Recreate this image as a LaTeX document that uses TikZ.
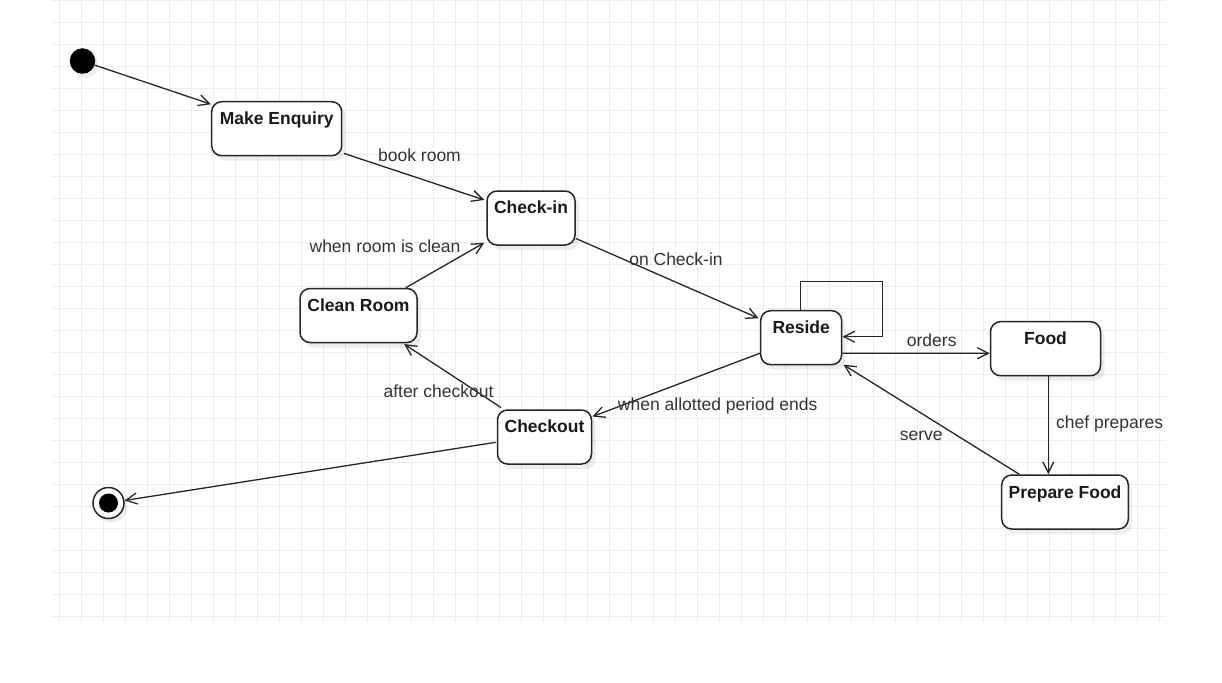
\documentclass[tikz,border=0pt]{standalone}
\usepackage{fontspec}
\setmainfont{Liberation Sans}
\usetikzlibrary{arrows.meta,shadows,calc}
\definecolor{gridc}{HTML}{EDEDED}
\definecolor{ink}{HTML}{262626}
\definecolor{lbl}{HTML}{333333}

\begin{document}
\begin{tikzpicture}[x=1pt,y=-1pt,
  statebox/.style={draw=ink, line width=1.5pt, rounded corners=10pt, fill=white,
    minimum height=54pt, inner sep=0pt,
    drop shadow={shadow xshift=4pt, shadow yshift=-5pt, opacity=0.07, fill=black}},
  ttl/.style={font=\bfseries\fontsize{17.5}{20}\selectfont, text=black!90, inner sep=0pt, anchor=base},
  lab/.style={font=\fontsize{17.5}{20}\selectfont, text=lbl, inner sep=0pt, anchor=base},
  trans/.style={draw=ink, line width=1.3pt, -{Straight Barb[length=11pt,width=11pt]}},
  gridline/.style={draw=gridc, line width=1.3pt}]

\useasboundingbox (0,0) rectangle (1222,682);
\fill[white] (0,0) rectangle (1222,682);

% background grid
\foreach \gx in {0,...,50}
  \draw[gridline] ({59.3+22*\gx},0) -- ({59.3+22*\gx},623);
\foreach \gy in {0,...,28}
  \draw[gridline] (52,{0.3+22*\gy}) -- (1166,{0.3+22*\gy});

% pseudo states
\node[circle, fill=black, minimum size=25.5pt, inner sep=0pt,
  drop shadow={shadow xshift=3pt, shadow yshift=-4pt, opacity=0.07, fill=black}] (init) at (82.5,61) {};
\node[circle, draw=ink, line width=1.5pt, fill=white, minimum size=31pt, inner sep=0pt,
  drop shadow={shadow xshift=3pt, shadow yshift=-4pt, opacity=0.07, fill=black}] (fin) at (108.5,503) {};
\node[circle, fill=black, minimum size=19pt, inner sep=0pt] (finIn) at (fin) {};

% states
\node[statebox, minimum width=130pt] (enq) at (276.7,128.7) {};
\node[statebox, minimum width=88pt]  (chin) at (531,218) {};
\node[statebox, minimum width=117pt] (clean) at (358.5,315.5) {};
\node[statebox, minimum width=81pt]  (res) at (801.2,337.7) {};
\node[statebox, minimum width=110pt] (food) at (1045.5,348.7) {};
\node[statebox, minimum width=126.6pt] (prep) at (1065,502) {};
\node[statebox, minimum width=94pt]  (chk) at (544.5,437) {};

% state titles
\node[ttl] (enqT)   at ([yshift=-23.5pt]enq.north)   {Make Enquiry};
\node[ttl] (chinT)  at ([yshift=-23.5pt]chin.north)  {Check-in};
\node[ttl] (cleanT) at ([yshift=-23.5pt]clean.north) {Clean Room};
\node[ttl] (resT)   at ([yshift=-24pt]res.north)     {Reside};
\node[ttl] (foodT)  at ([yshift=-24pt]food.north)    {Food};
\node[ttl] (prepT)  at ([yshift=-24pt]prep.north)    {Prepare Food};
\node[ttl] (chkT)   at ([yshift=-23.5pt]chk.north)   {Checkout};

% transitions
\draw[trans] (init) -- ([shift={(0,3.3)}]enq.north west);
\draw[trans] ([shift={(1.6,-3)}]enq.south east) -- ([shift={(-2,9.7)}]chin.north west);
\draw[trans] ([shift={(-12,0)}]clean.north east) -- ([shift={(-2,-3)}]chin.south west);
\draw[trans] ([shift={(0,-7.3)}]chin.south east) -- ([shift={(-1.4,8.3)}]res.north west);
\draw[trans] ([xshift=-1pt]res.north) -- ++(0,-28.4) -| ([shift={(40,-1)}]res.east) -- ([shift={(0,-1)}]res.east);
\draw[trans] ([shift={(0,15.5)}]res.east) -- ([shift={(0,4.6)}]food.west);
\draw[trans] ([xshift=2.8pt]food.south) -- ([xshift=2.8pt]food.south |- prep.north);
\draw[trans] ([shift={(18.3,0)}]prep.north west) -- ([shift={(1,-0.7)}]res.south east);
\draw[trans] ([shift={(0,15.5)}]res.west) -- ([shift={(0.2,7.3)}]chk.north east);
\draw[trans] ([shift={(4.3,-1.7)}]chk.north west) -- ([shift={(-13.7,0.8)}]clean.south east);
\draw[trans] ([shift={(-1,5.3)}]chk.west) -- (fin);

% transition labels
\node[lab] (l1) at (419.5,161.5) {book room};
\node[lab] (l2) at (385,252.5) {when room is clean};
\node[lab] (l3) at (676,265) {on Check-in};
\node[lab] (l4) at (931.7,346.7) {orders};
\node[lab, anchor=base west] (l5) at (1056,428.3) {chef prepares};
\node[lab] (l6) at (921.3,440) {serve};
\node[lab] (l7) at (717.7,410.5) {when allotted period ends};
\node[lab] (l8) at (438.5,397.3) {after checkout};

\end{tikzpicture}
\end{document}
